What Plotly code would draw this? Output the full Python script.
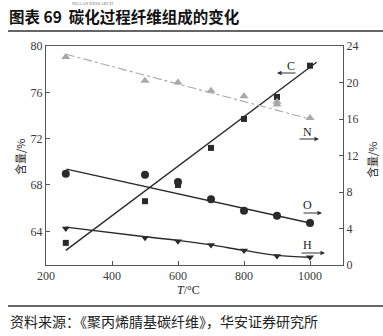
import plotly.graph_objects as go

# Measured fibre composition during carbonisation
temps = [260, 500, 600, 700, 800, 900, 1000]
carbon = [63.0, 66.6, 68.0, 71.2, 73.7, 75.6, 78.3]      # left axis, %
nitrogen = [22.8, 20.2, 20.0, 19.1, 18.5, 17.9, 16.1]    # right axis, %
nitrogen_b = [17.6]                                      # second reading at 900
oxygen = [10.0, 9.9, 9.1, 7.2, 5.95, 5.4, 4.6]           # right axis, %
hydrogen = [4.0, 3.0, 2.6, 2.2, 1.6, 1.0, 0.85]          # right axis, %

# Trend lines (end points)
c_fit_t, c_fit_v = [260, 1020], [62.35, 78.6]
n_fit_t, n_fit_v = [260, 1000], [23.1, 16.0]
o_fit_t, o_fit_v = [262, 1000], [10.5, 4.6]
h_fit_t = [260, 500, 600, 700, 800, 900, 1000]
h_fit_v = [4.15, 3.1, 2.7, 2.2, 1.6, 1.05, 0.85]

x_ticks = [200, 400, 600, 800, 1000]
left_ticks = [64, 68, 72, 76, 80]
right_ticks = [0, 4, 8, 12, 16, 20, 24]

W, H = 383, 336
L, R, T, B = 46, 343, 46, 265


def px(x):
    return (x - L) / (R - L)


def py(y):
    return (B - y) / (B - T)


dark = "#2a2a2a"
grey = "#a8a8a8"
serif = "Liberation Serif"
cjk = "Noto Sans CJK SC"

fig = go.Figure()

# trend lines
fig.add_trace(go.Scatter(x=c_fit_t, y=c_fit_v, mode="lines",
                         line=dict(color=dark, width=1.4), yaxis="y"))
fig.add_trace(go.Scatter(x=n_fit_t, y=n_fit_v, mode="lines",
                         line=dict(color=grey, width=1.1, dash="dashdot"), yaxis="y2"))
fig.add_trace(go.Scatter(x=o_fit_t, y=o_fit_v, mode="lines",
                         line=dict(color=dark, width=1.4), yaxis="y2"))
fig.add_trace(go.Scatter(x=h_fit_t, y=h_fit_v, mode="lines",
                         line=dict(color=dark, width=1.4, shape="spline"), yaxis="y2"))

# measured points
fig.add_trace(go.Scatter(x=temps, y=carbon, mode="markers",
                         marker=dict(symbol="square", size=6, color=dark), yaxis="y"))
fig.add_trace(go.Scatter(x=temps, y=nitrogen, mode="markers",
                         marker=dict(symbol="triangle-up", size=8, color=grey), yaxis="y2"))
fig.add_trace(go.Scatter(x=[900], y=nitrogen_b, mode="markers",
                         marker=dict(symbol="triangle-up", size=8, color=grey), yaxis="y2"))
fig.add_trace(go.Scatter(x=temps, y=oxygen, mode="markers",
                         marker=dict(symbol="circle", size=8, color=dark), yaxis="y2"))
fig.add_trace(go.Scatter(x=temps, y=hydrogen, mode="markers",
                         marker=dict(symbol="triangle-down", size=7, color=dark), yaxis="y2"))

axis_common = dict(showgrid=False, zeroline=False, showline=True, linecolor="#555",
                   linewidth=1, ticks="inside", ticklen=4, tickcolor="#555",
                   tickfont=dict(family=serif, size=12, color="#3a3a3a"))

fig.update_layout(
    width=W, height=H,
    margin=dict(l=L, r=W - R, t=T, b=H - B),
    paper_bgcolor="white", plot_bgcolor="white",
    showlegend=False,
    xaxis=dict(range=[200, 1100], tickvals=x_ticks, mirror=True, **axis_common),
    yaxis=dict(range=[61.09, 80], tickvals=left_ticks, **axis_common),
    yaxis2=dict(range=[0, 24], tickvals=right_ticks, overlaying="y", side="right",
                **axis_common),
)

ann = []


def text(x, y, s, size=12, family=serif, color="#222", angle=0, xanchor="center",
         yanchor="middle", pad=1):
    ann.append(dict(x=px(x), y=py(y), xref="paper", yref="paper", text=s,
                    showarrow=False, textangle=angle, xanchor=xanchor, yanchor=yanchor,
                    borderpad=pad, font=dict(family=family, size=size, color=color)))


def arrow(x_head, x_tail, y):
    ann.append(dict(x=px(x_head), y=py(y), xref="paper", yref="paper", text="",
                    showarrow=True, ax=x_tail - x_head, ay=0, arrowhead=2,
                    arrowsize=0.9, arrowwidth=1, arrowcolor="#333"))


# series labels with arrows to their axes
text(291, 66, "C")
arrow(277, 297, 73)
text(307, 132, "N")
arrow(319, 298, 139)
text(307, 205, "O")
arrow(322, 302, 213)
text(307, 245, "H")
arrow(325, 300, 253)

# axis titles
text(20, 157, "含量/%", size=11, family=cjk, angle=-90)
text(372, 160, "含量/%", size=11, family=cjk, angle=-90)
text(188, 290, "<i>T</i>/°C", size=12)

# header and footer
text(93, 0, "HUAAN RESEARCH", size=4.5, family=serif, color="#777", yanchor="top", pad=0)
text(8, 16.5, "<b>图表 69  碳化过程纤维组成的变化</b>", size=15.5, family=cjk,
     color="#111", xanchor="left", pad=0)
text(8, 321, "资料来源：《聚丙烯腈基碳纤维》，华安证券研究所", size=14, family=cjk,
     color="#222", xanchor="left")

fig.update_layout(annotations=ann)

fig.update_layout(shapes=[
    dict(type="line", xref="paper", yref="paper", x0=px(8), x1=px(383),
         y0=py(31), y1=py(31), line=dict(color="#333", width=1.5)),
    dict(type="line", xref="paper", yref="paper", x0=px(8), x1=px(383),
         y0=py(306), y1=py(306), line=dict(color="#333", width=1.5)),
])

fig.write_html("out.html")
